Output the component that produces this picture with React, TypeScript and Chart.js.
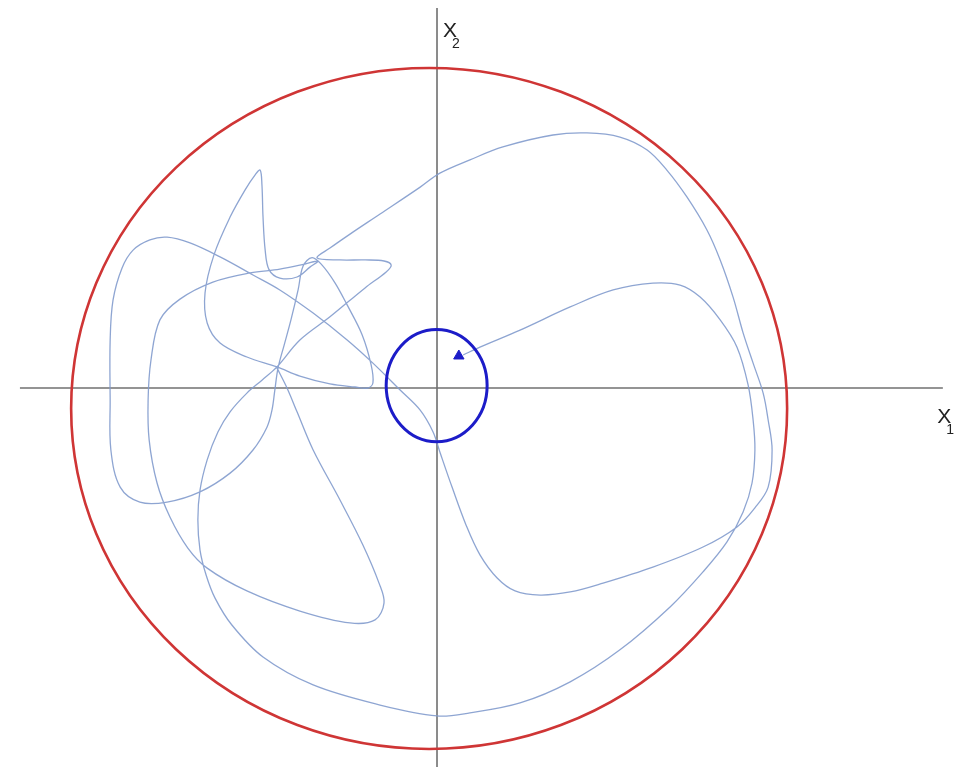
import React, { useEffect, useRef } from "react";
import { Chart, registerables } from "chart.js";

Chart.register(...registerables);

// Trajectory, in units where the red circle has radius 10.
// Segment 1: from the start point down through the lower-left lobe back to the upper hub
const seg1: [number, number][] = [
  [-4.47, 0.59], [-4.19, 0.0], [-3.91, -0.7], [-3.46, -1.82], [-2.71, -3.29], [-2.07, -4.61],
  [-1.62, -5.73], [-1.48, -6.31], [-1.73, -6.81], [-2.43, -6.9], [-3.83, -6.55], [-5.31, -5.96],
  [-6.42, -5.29], [-6.96, -4.7], [-7.46, -3.79], [-7.82, -2.79], [-8.04, -1.53], [-8.07, -0.35],
  [-7.99, 0.82], [-7.74, 2.0], [-7.18, 2.61], [-6.26, 3.11], [-5.22, 3.38], [-4.39, 3.49],
  [-3.69, 3.64], [-3.32, 3.73],
];
// Segment 2: small loop, up the spike and back down to the start point
const seg2: [number, number][] = [
  [-3.55, 3.55], [-3.91, 3.26], [-4.39, 3.23], [-4.69, 3.47], [-4.8, 4.05], [-4.86, 5.02],
  [-4.89, 5.96], [-4.94, 6.4], [-5.08, 6.26], [-5.36, 5.82], [-5.78, 5.02], [-6.23, 3.91],
  [-6.48, 2.79], [-6.42, 1.91], [-6.06, 1.32], [-5.31, 0.91], [-4.47, 0.62],
];
// Segment 3: along the x1 axis, sharp turn, back up to the hub
const seg3: [number, number][] = [
  [-3.83, 0.35], [-2.99, 0.12], [-2.29, 0.03], [-1.93, 0.0], [-1.79, 0.15], [-1.84, 0.68],
  [-2.09, 1.56], [-2.51, 2.44], [-2.85, 3.09], [-3.21, 3.61], [-3.49, 3.83],
];
// Segment 4: left loop, through the target, lower-right lobe, top arc, long diagonal
const seg4: [number, number][] = [
  [-3.74, 3.58], [-3.88, 2.88], [-4.08, 2.0], [-4.27, 1.26], [-4.44, 0.59], [-4.53, -0.06],
  [-4.61, -0.65], [-4.75, -1.15], [-5.14, -1.82], [-5.78, -2.5], [-6.62, -3.05], [-7.54, -3.35],
  [-8.3, -3.35], [-8.85, -2.91], [-9.11, -1.82], [-9.13, -0.35], [-9.13, 1.41], [-9.05, 2.58],
  [-8.8, 3.52], [-8.49, 4.05], [-8.02, 4.35], [-7.54, 4.43], [-6.9, 4.26], [-6.06, 3.85],
  [-5.14, 3.32], [-4.39, 2.88], [-3.46, 2.2], [-2.51, 1.41], [-1.79, 0.73], [-1.03, -0.06],
  [-0.47, -0.65], [-0.11, -1.29], [0.08, -1.88], [0.42, -2.91], [0.81, -4.02], [1.2, -4.9],
  [1.68, -5.58], [2.18, -5.96], [2.88, -6.08], [3.72, -5.99], [4.64, -5.73], [6.03, -5.26],
  [7.43, -4.67], [8.38, -4.08], [8.88, -3.52], [9.25, -2.91], [9.36, -1.82], [9.25, -0.94],
  [9.11, -0.15], [8.83, 0.73], [8.55, 1.62], [8.27, 2.67], [7.91, 3.76], [7.54, 4.64],
  [6.98, 5.61], [6.42, 6.4], [5.87, 6.99], [5.11, 7.37], [4.19, 7.49], [3.24, 7.43],
  [1.84, 7.08], [0.92, 6.7], [0.08, 6.31], [-0.47, 5.9], [-1.59, 5.11], [-2.43, 4.52],
  [-2.99, 4.11], [-3.35, 3.82],
];
// Segment 5: pointed turn and diagonal back to the start point
const seg5: [number, number][] = [
  [-2.71, 3.76], [-2.01, 3.76], [-1.48, 3.73], [-1.28, 3.61], [-1.42, 3.41], [-2.01, 2.94],
  [-2.99, 2.09], [-3.83, 1.41], [-4.47, 0.62],
];
// Segment 6: bottom arc, right side and final approach into the target
const seg6: [number, number][] = [
  [-4.89, 0.23], [-5.31, -0.15], [-5.78, -0.7], [-6.12, -1.29], [-6.42, -2.11], [-6.62, -3.0],
  [-6.68, -3.88], [-6.62, -4.76], [-6.45, -5.49], [-6.2, -6.17], [-5.73, -6.96], [-4.86, -7.9],
  [-3.46, -8.72], [-1.59, -9.31], [0.0, -9.63], [0.92, -9.54], [2.32, -9.25], [3.72, -8.63],
  [5.11, -7.69], [6.51, -6.43], [7.43, -5.4], [8.1, -4.52], [8.55, -3.64], [8.8, -2.79],
  [8.88, -1.82], [8.83, -0.94], [8.69, 0.09], [8.38, 1.2], [7.91, 2.0], [7.35, 2.67],
  [6.79, 3.02], [6.03, 3.08], [4.92, 2.88], [3.72, 2.38], [2.32, 1.7], [1.2, 1.2], [0.73, 0.97],
];
const arrowPoint: [number, number][] = [[0.61, 0.94]];

// Axes extents
const axisX1: [number, number][] = [[-11.65, 0], [14.13, 0]];
const axisX2: [number, number][] = [[0, 11.16], [0, -11.13]];

// Circles: [centerX, centerY, radiusX, radiusY]
const outerCircle = [-0.22, -0.6, 10, 10];
const targetCircle = [-0.01, 0.07, 1.41, 1.65];

// Axis labels: [main, subscript, x, y]
const axisLabels: [string, string, number, number][] = [
  ["X", "2", 0.17, 10.31],
  ["X", "1", 13.97, -1.03],
];

const toPts = (arr: [number, number][]) => arr.map(([x, y]) => ({ x, y }));

export default function App() {
  const ref = useRef<HTMLCanvasElement | null>(null);

  useEffect(() => {
    if (!ref.current) return;
    const traj = [...seg1, ...seg2, ...seg3, ...seg4, ...seg5, ...seg6];

    const overlay = {
      id: "overlay",
      afterDatasetsDraw(chart: any) {
        const ctx = chart.ctx;
        const xs = chart.scales.x;
        const ys = chart.scales.y;
        const ellipse = (c: number[], color: string, w: number) => {
          const cx = xs.getPixelForValue(c[0]);
          const cy = ys.getPixelForValue(c[1]);
          const rx = Math.abs(xs.getPixelForValue(c[0] + c[2]) - cx);
          const ry = Math.abs(ys.getPixelForValue(c[1] + c[3]) - cy);
          ctx.save();
          ctx.beginPath();
          ctx.ellipse(cx, cy, rx, ry, 0, 0, Math.PI * 2);
          ctx.strokeStyle = color;
          ctx.lineWidth = w;
          ctx.stroke();
          ctx.restore();
        };
        ellipse(outerCircle, "#cf3535", 2.6);
        ellipse(targetCircle, "#1c1cc8", 3);

        ctx.save();
        ctx.fillStyle = "#222222";
        ctx.textBaseline = "alphabetic";
        ctx.textAlign = "left";
        axisLabels.forEach(([main, sub, x, y]) => {
          const px = xs.getPixelForValue(x);
          const py = ys.getPixelForValue(y);
          ctx.font = "21px 'Liberation Sans', Arial, sans-serif";
          ctx.fillText(main, px, py);
          const w = ctx.measureText(main).width;
          ctx.font = "14px 'Liberation Sans', Arial, sans-serif";
          ctx.fillText(sub, px + w - 5, py + 11);
        });
        ctx.restore();
      },
    };

    const chart = new Chart(ref.current, {
      type: "scatter",
      data: {
        datasets: [
          {
            data: toPts(arrowPoint),
            pointStyle: "triangle",
            pointRadius: 6,
            backgroundColor: "#1c1cc8",
            borderColor: "#1c1cc8",
            showLine: false,
          } as any,
          {
            data: toPts(traj),
            showLine: true,
            borderColor: "rgba(130,155,205,0.9)",
            borderWidth: 1.3,
            pointRadius: 0,
            tension: 0.35,
            fill: false,
          } as any,
          {
            data: toPts(axisX1),
            showLine: true,
            borderColor: "#707070",
            borderWidth: 1.6,
            pointRadius: 0,
          } as any,
          {
            data: toPts(axisX2),
            showLine: true,
            borderColor: "#707070",
            borderWidth: 1.6,
            pointRadius: 0,
          } as any,
        ],
      },
      options: {
        animation: false,
        responsive: false,
        maintainAspectRatio: false,
        layout: { padding: 0, autoPadding: false },
        plugins: { legend: { display: false }, tooltip: { enabled: false } },
        scales: {
          x: { type: "linear", min: -12.207, max: 14.972, display: false },
          y: { type: "linear", min: -11.248, max: 11.395, display: false },
        },
      },
      plugins: [overlay],
    });
    return () => chart.destroy();
  }, []);

  return (
    <div style={{ position: "fixed", left: 0, top: 0, width: 973, height: 771, background: "#ffffff" }}>
      <canvas ref={ref} width={973} height={771} style={{ display: "block" }} />
    </div>
  );
}
